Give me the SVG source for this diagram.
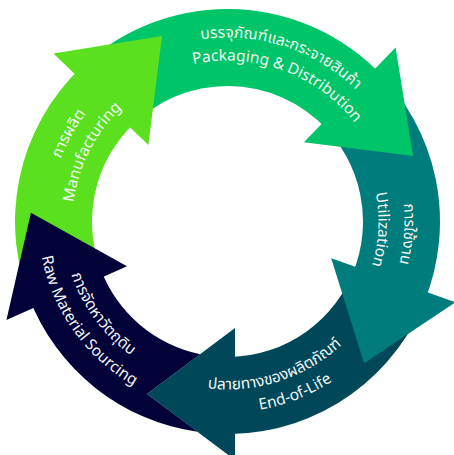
<svg xmlns="http://www.w3.org/2000/svg" xmlns:xlink="http://www.w3.org/1999/xlink" width="454" height="455" viewBox="0 0 454 455">
<style>
.t{fill:#F2F5F3;font-family:"Noto Sans","Open Sans","Noto Sans Thai",sans-serif;font-size:15.5px}
.th{fill:#F2F5F3;font-family:"Noto Sans Thai","Noto Sans Thai UI","Leelawadee UI","Noto Sans",sans-serif;font-size:15.5px}
</style>
<defs>
<polygon id="head" points="337.5,221.5 469.5,221.5 403.5,309.5"/>
<path id="pkgT" d="M82.50,108.22 A184,184 0 0 1 411.39,215.08"/>
<path id="pkgE" d="M104.17,118.01 A161,161 0 0 1 388.5,221.5"/>
<path id="mfgT" d="M93.16,338.28 A178,178 0 0 1 255.34,45.69"/>
<path id="mfgE" d="M114.14,327.21 A155,155 0 0 1 246.39,67.65"/>
<path id="utlT" d="M299.49,59.80 A177,177 0 0 1 276.29,391.64"/>
<path id="utlE" d="M286.5,82.5 A151,151 0 0 1 271.65,365.90"/>
<path id="eolT" d="M95.11,324.93 A168,168 0 0 0 395.40,227.36"/>
<path id="eolE" d="M84.45,348.06 A191,191 0 0 0 418.44,216.5"/>
<path id="rawT" d="M89.91,130.43 A165,165 0 0 0 274.36,379.71"/>
<path id="rawE" d="M71.74,114.45 A189,189 0 0 0 278.01,403.63"/>
</defs>
<g id="end-of-life" fill="#00475A">
<path d="M440,221.5 A212.5,212.5 0 0 1 301.92,420.54 L274.95,348.42 A135.5,135.5 0 0 0 363,221.5 Z" transform="rotate(19.5 227.5 221.5)"/>
<polygon points="235,328 235,460 147,394"/>
<text class="th"><textPath xlink:href="#eolT" startOffset="50%" text-anchor="middle">ปลายทางของผลิตภัณฑ์</textPath></text>
<text class="t"><textPath xlink:href="#eolE" startOffset="50%" text-anchor="middle">End-of-Life</textPath></text>
</g>
<g id="utilization" fill="#007C7C">
<path d="M440,221.5 A212.5,212.5 0 0 1 305.38,419.21 L277.16,347.57 A135.5,135.5 0 0 0 363,221.5 Z" transform="rotate(314 227.5 221.5)"/>
<use xlink:href="#head" transform="rotate(19.5 227.5 221.5)"/>
<text class="th"><textPath xlink:href="#utlT" startOffset="50%" text-anchor="middle">การใช้งาน</textPath></text>
<text class="t"><textPath xlink:href="#utlE" startOffset="50%" text-anchor="middle">Utilization</textPath></text>
</g>
<g id="packaging" fill="#00C468">
<path d="M440,221.5 A212.5,212.5 0 0 1 216.38,433.71 L220.41,356.81 A135.5,135.5 0 0 0 363,221.5 Z" transform="rotate(224 227.5 221.5)"/>
<use xlink:href="#head" transform="rotate(314 227.5 221.5)"/>
<text class="th"><textPath xlink:href="#pkgT" startOffset="50%" text-anchor="middle">บรรจุภัณฑ์และกระจายสินค้า</textPath></text>
<text class="t"><textPath xlink:href="#pkgE" startOffset="50%" text-anchor="middle">Packaging &amp; Distribution</textPath></text>
</g>
<g id="manufacturing" fill="#5AE01E">
<path d="M440,221.5 A212.5,212.5 0 0 1 296.68,422.42 L271.61,349.62 A135.5,135.5 0 0 0 363,221.5 Z" transform="rotate(156 227.5 221.5)"/>
<use xlink:href="#head" transform="rotate(224 227.5 221.5)"/>
<text class="th"><textPath xlink:href="#mfgT" startOffset="50%" text-anchor="middle">การผลิต</textPath></text>
<text class="t"><textPath xlink:href="#mfgE" startOffset="50%" text-anchor="middle">Manufacturing</textPath></text>
</g>
<g id="raw-material" fill="#03033A">
<path d="M197.49,431.87 A212.5,212.5 0 0 1 29.11,297.65 L101,270.06 A135.5,135.5 0 0 0 200.07,354.2 L147,394 Z"/>
<use xlink:href="#head" transform="rotate(156 227.5 221.5)"/>
<text class="th"><textPath xlink:href="#rawT" startOffset="50%" text-anchor="middle">การจัดหาวัตถุดิบ</textPath></text>
<text class="t"><textPath xlink:href="#rawE" startOffset="50%" text-anchor="middle">Raw Material Sourcing</textPath></text>
</g>
</svg>
